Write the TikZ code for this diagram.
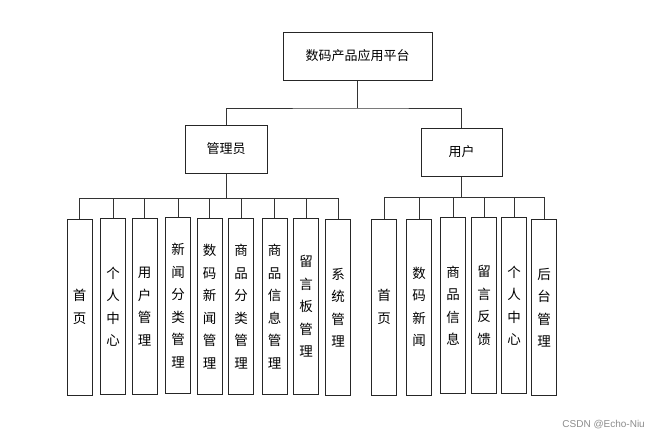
\documentclass[tikz,border=0pt]{standalone}
\usepackage{fontspec}
\setmainfont{Liberation Sans}
\newfontfamily\cjk{Noto Sans CJK SC}
\begin{document}
\begin{tikzpicture}[x=1pt,y=-1pt,
  box/.style={draw=black!85,line width=1pt,inner sep=0pt,fill=white,font=\cjk\fontsize{13}{22}\selectfont,align=center},
  leaf/.style={box,minimum width=25pt,minimum height=176pt,font=\cjk\fontsize{13.5}{22.5}\selectfont},
  conn/.style={draw=black!80,line width=1pt}]
\useasboundingbox (0,0) rectangle (660,439);
\node[box,minimum width=149pt,minimum height=48pt] (root) at (357.5,56) {数码产品应用平台};
\node[box,minimum width=82pt,minimum height=48pt] (admin) at (226,149) {管理员};
\node[box,minimum width=81pt,minimum height=48pt] (user) at (461.5,152) {用户};
\coordinate (topbus) at (357.5,108);
\coordinate (lbus) at (226,198);
\coordinate (rbus) at (461.5,197);
% left leaves
\node[leaf] (a1) at (79.5,307) {首\\页};
\node[leaf] (a2) at (113,306.5) {个\\人\\中\\心};
\node[leaf] (a3) at (144.5,306.5) {用\\户\\管\\理};
\node[leaf] (a4) at (178,305.5) {新\\闻\\分\\类\\管\\理};
\node[leaf] (a5) at (209.5,306.5) {数\\码\\新\\闻\\管\\理};
\node[leaf] (a6) at (241,306.5) {商\\品\\分\\类\\管\\理};
\node[leaf] (a7) at (274.5,306.5) {商\\品\\信\\息\\管\\理};
\node[leaf] (a8) at (306,306.5) {留\\言\\板\\管\\理};
\node[leaf] (a9) at (338,307.5) {系\\统\\管\\理};
% right leaves
\node[leaf] (b1) at (384,307) {首\\页};
\node[leaf] (b2) at (419,307) {数\\码\\新\\闻};
\node[leaf] (b3) at (453,305.5) {商\\品\\信\\息};
\node[leaf] (b4) at (484,305.5) {留\\言\\反\\馈};
\node[leaf] (b5) at (514,305.5) {个\\人\\中\\心};
\node[leaf] (b6) at (544,307.5) {后\\台\\管\\理};
% connectors
\draw[conn] (root.south) -- (topbus);
\draw[conn] (admin.north) |- (topbus) -| (user.north);
\draw[conn] (admin.south) -- (lbus);
\draw[conn] (a1.north |- lbus) -- (a9.north |- lbus);
\foreach \n in {a1,a2,a3,a4,a5,a6,a7,a8,a9} \draw[conn] (\n.north) -- (\n.north |- lbus);
\draw[conn] (user.south) -- (rbus);
\draw[conn] (b1.north |- rbus) -- (b6.north |- rbus);
\foreach \n in {b1,b2,b3,b4,b5,b6} \draw[conn] (\n.north) -- (\n.north |- rbus);
\node[text=black!45,font=\fontsize{10}{12}\selectfont,anchor=east,inner sep=0pt] (wm) at (645,425) {CSDN @Echo-Niu};
\end{tikzpicture}
\end{document}
